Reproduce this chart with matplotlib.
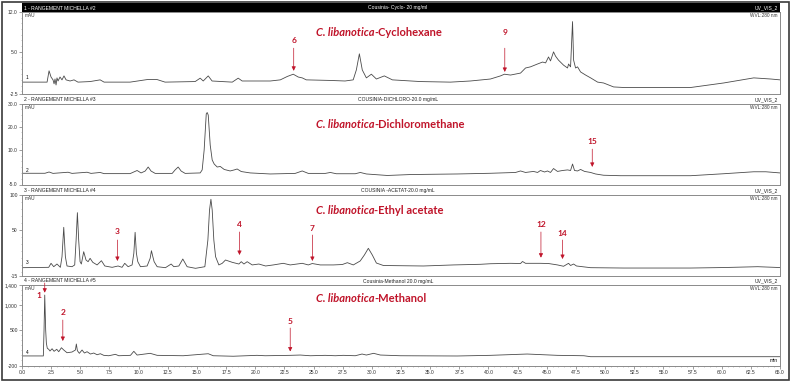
import matplotlib
matplotlib.use('Agg')
import matplotlib.pyplot as plt
from matplotlib.patches import Rectangle
from matplotlib.ticker import MultipleLocator

cyclo_t = [0, 2.15, 2.32, 2.49, 2.66, 2.75, 2.83, 2.92, 3.0, 3.09, 3.26, 3.43, 3.6, 3.78, 4.12, 4.46, 4.8, 5.84,
           6.7, 7.04, 9.27, 10.73, 11.59, 12.27, 14.85, 15.28, 15.54, 15.97, 16.3, 18.03, 18.54, 18.88, 21.29,
           22.15, 22.75, 23.26, 23.69, 24.03, 24.38, 26.4, 27.7, 28.4, 28.67, 28.93, 29.18, 29.53, 29.96, 30.39,
           31.07, 31.76, 34.16, 36.74, 38.45, 40.17, 41.03, 41.37, 41.89, 42.75, 43.18, 43.6, 44.2, 44.64, 44.9,
           45.15, 45.32, 45.58, 45.75, 46.0, 46.44, 46.78, 46.87, 47.04, 47.21, 47.3, 47.47, 47.64, 47.9, 48.33,
           48.76, 49.36, 49.87, 50.73, 51.59, 57.34, 60.17, 62.75, 64.21, 65.0]
cyclo_v = [-0.4, -0.4, 1.6, 0.5, 0.0, -0.7, 0.15, -0.9, 0.35, -0.2, 0.5, 0.0, 0.7, 0.0, -0.2, 0.0, -0.4, -0.3,
           0.0, -0.4, -0.4, 0.05, 0.05, -0.4, -0.3, 0.3, -0.2, 0.7, -0.2, -0.4, 0.3, -0.2, -0.2,
           0.0, 0.6, 1.0, 0.5, 0.35, 0.0, -0.1, -0.2, 0.0, 1.75, 4.6, 1.75, 0.35, 1.0, 0.15,
           0.7, 0.0, -0.3, -0.4, -0.2, 0.15, 0.7, 1.0, 0.85, 1.2, 2.1, 2.3, 2.8, 3.15, 3.0,
           4.05, 3.35, 4.95, 4.2, 3.5, 2.6, 2.1, 2.8, 2.3, 10.3, 3.5, 2.1, 2.3, 1.4, 0.85,
           0.35, -0.4, -0.55, -1.25, -1.35, -1.35, -0.55, 0.35, 0.15, 0.0]

dcm_t = [0, 1.97, 2.32, 2.66, 3.95, 4.29, 5.58, 5.92, 6.7, 7.04, 9.27, 9.87, 10.21, 10.56, 10.82, 11.07, 11.42,
         12.88, 13.13, 13.39, 13.65, 13.99, 15.28, 15.45, 15.62, 15.8, 15.88, 15.97, 16.14, 16.31, 16.48, 16.74,
         17.0, 17.34, 17.85, 18.2, 18.45, 18.8, 19.57, 21.29, 23.43, 24.03, 24.55, 26.01, 26.44, 26.95, 28.58,
         29.01, 29.53, 31.33, 33.3, 37.34, 40.17, 42.32, 42.75, 43.18, 43.86, 44.21, 44.46, 44.81, 45.06, 45.32,
         45.58, 45.92, 46.35, 46.78, 47.04, 47.21, 47.38, 47.64, 47.9, 48.24, 48.76, 49.18, 49.87, 51.33, 57.34,
         60.17, 62.75, 63.78, 65.0]
dcm_v = [-0.15, -0.15, 0.4, -0.2, 0.3, -0.2, 0.3, -0.2, 0.2, -0.3, -0.3, 1.05, 0.0, 0.8, 2.55, 0.8, -0.2,
         -0.2, 1.3, 2.55, 0.8, -0.2, 0.0, 1.3, 9.9, 25.5, 26.1, 25.0, 12.0, 5.6, 3.85, 2.55,
         2.8, 1.5, 0.85, 1.3, 1.7, 0.6, 0.0, -0.45, -0.2, 0.85, -0.2, -0.2, 0.2, -0.35, -0.35,
         0.2, -0.45, -1.1, -0.7, -0.45, -0.15, 0.2, 0.85, 0.2, 0.65, 0.2, 1.05, 0.4, 0.85, 0.2,
         1.9, 0.65, 1.05, 1.3, 1.05, 3.85, 1.05, 0.85, 1.5, 0.65, 0.2, -0.45, -1.0, -1.2, -1.2,
         -0.35, 0.5, 0.5, 0.0]

ea_t = [0, 2.29, 2.49, 2.72, 3.0, 3.29, 3.43, 3.58, 3.72, 3.86, 4.29, 4.52, 4.64, 4.75, 4.86, 4.98, 5.09, 5.29,
        5.49, 5.67, 5.84, 6.07, 6.44, 6.81, 7.1, 7.73, 8.24, 8.58, 8.81, 9.1, 9.44, 9.59, 9.7, 9.81, 9.93, 10.16,
        10.73, 10.99, 11.1, 11.22, 11.33, 11.59, 12.3, 12.79, 13.02, 13.45, 13.79, 14.16, 14.88, 15.68, 15.94,
        16.08, 16.2, 16.31, 16.45, 16.6, 16.88, 17.17, 17.45, 18.03, 18.6, 18.8, 19.03, 19.31, 19.74, 20.31,
        20.89, 21.55, 22.4, 23.0, 24.03, 24.55, 24.89, 25.58, 26.7, 27.47, 27.9, 28.41, 29.0, 29.36, 29.7, 30.04,
        30.39, 30.99, 32.45, 34.42, 37.0, 39.31, 40.17, 41.89, 42.75, 42.92, 43.18, 44.46, 45.15, 45.92, 46.44,
        46.87, 47.04, 47.3, 47.55, 48.76, 51.59, 57.34, 60.17, 63.09, 65.0]
ea_v = [-3.9, -3.4, 2.3, -2.5, 1.3, -3.4, 11.7, 53.4, 11.7, -1.5, -2.5, 0, 35.4, 74.2, 35.4, 4.6, 1.3, 18.8,
        7.0, 4.6, 9.4, 3.7, 0, 6.0, -1.5, -3.4, -1.5, -3.4, 2.3, -2.5, 0, 16.5, 46.3, 16.5, 4.6, -2.5,
        -1.5, 9.4, 20.2, 11.7, 4.6, -2.5, -3.9, 1.3, -2.5, -1.5, 8.4, -2.5, -4.8, -2.5, 35.4,
        78, 93.2, 78, 35.4, 11.7, 0, 2.3, 7.0, 3.7, 1.3, 4.6, 1.3, 4.6, 0, 1.3,
        -1.5, 0, 2.3, 0, 2.3, 0, 2.0, 0, 0, 0.6, 3.2, 0, 5.6, 14.1, 23.6, 14.1,
        2.7, -0.8, -1.1, -1.5, 0, 0.9, 1.7, 2.3, 2.0, 4.9, 2.3, 2.3, 2.0, 0, -1.9,
        2.3, -0.8, 1.3, -1.5, -3.9, -4.4, -4.4, -3.7, -2.5, -3.7]

meoh_t = [0, 1.83, 1.89, 1.95, 2.03, 2.09, 2.17, 2.29, 2.4, 2.58, 2.75, 2.98, 3.15, 3.38, 3.58, 3.86, 4.29, 4.58,
          4.66, 4.75, 4.92, 5.15, 5.35, 5.58, 5.87, 6.15, 6.44, 6.72, 7.01, 7.44, 8.01, 8.3, 9.3, 9.59, 9.87,
          10.99, 11.59, 13.82, 15.97, 16.4, 18.11, 20.15, 20.86, 23.0, 23.86, 24.72, 26.0, 26.87, 27.55, 28.58,
          29.16, 29.53, 30.15, 30.73, 32.45, 37.31, 40.17, 43.32, 45.9, 48.18, 48.76, 65.0]
meoh_v = [-10, -10, 505, 1200, 505, 241, 142, 122, 88, 133, 82, 122, 74, 153, 108, 54, 68, 108,
          227, 94, 42, 108, 48, 74, 28, 48, 14, 34, 2, -6, 22, -6, 2, 82, 8,
          42, 2, -6, 34, -6, -16, 2, -6, 2, 8, -6, 2, -6, 2, -6,
          28, 8, 42, 8, -6, -11, 2, 28, 2, -6, -25, -25]

# textes des panneaux
run_names = ['1 - RANGEMENT MICHELLA #2', '2 - RANGEMENT MICHELLA #3',
             '3 - RANGEMENT MICHELLA #4', '4 - RANGEMENT MICHELLA #5']
sample_names = ['Cousinia- Cyclo- 20 mg/ml', 'COUSINIA-DICHLORO-20.0 mg/mL',
                'COUSINIA -ACETAT-20.0 mg/mL', 'Cousinia-Methanol 20.0 mg/mL']
solvents = ['Cyclohexane', 'Dichloromethane', 'Ethyl acetate', 'Methanol']
y_limits = [(-2.5, 12.0), (-5.0, 30.0), (-15, 100), (-200, 1400)]
y_ticks = [[-2.5, 5.0, 12.0], [-5.0, 10.0, 20.0, 30.0], [-15, 50, 100], [-200, 500, 1000, 1400]]
y_ticklabels = [['-2.5', '5.0', '12.0'], ['-5.0', '10.0', '20.0', '30.0'], ['-15', '50', '100'],
                ['-200', '500', '1,000', '1,400']]
y_minor = [1.0, 2.5, 10, 100]
x_ticks = [i * 2.5 for i in range(27)]

# fleches rouges : (panneau, numero, temps, pointe, depart, etiquette)
arrows_panel = [0, 0, 1, 2, 2, 2, 2, 2, 3, 3]
arrows_num = ['6', '9', '15', '3', '4', '7', '12', '14', '2', '5']
arrows_t = [23.3, 41.4, 48.9, 8.18, 18.65, 24.9, 44.5, 46.35, 3.5, 23.0]
arrows_tip = [1.6, 1.4, 2.6, 5.6, 14.1, 5.6, 10.3, 8.4, 287, 78]
arrows_start = [5.6, 5.6, 10.3, 35.4, 46.8, 42.5, 46.8, 35.4, 704, 545]
arrows_label = [6.9, 8.3, 13.4, 47.2, 58.1, 52.4, 58.1, 45.3, 863, 670]

traces_t = [cyclo_t, dcm_t, ea_t, meoh_t]
traces_v = [cyclo_v, dcm_v, ea_v, meoh_v]

red = '#C0142A'
W, H = 791, 382
fig = plt.figure(figsize=(W / 100, H / 100), dpi=100)

# position des cadres en pixels (haut, bas)
boxes = [(12, 94), (103.5, 184.5), (194.5, 275.5), (285, 365.5)]
x0, x1 = 22, 780
axes = []
for i, (top, bot) in enumerate(boxes):
    ax = fig.add_axes([x0 / W, 1 - bot / H, (x1 - x0) / W, (bot - top) / H])
    axes.append(ax)
    ax.plot(traces_t[i], traces_v[i], color='#4a4a4a', lw=0.6)
    ax.set_xlim(0, 65)
    ax.set_ylim(*y_limits[i])
    for s in ax.spines.values():
        s.set_color('#8a8a8a')
        s.set_linewidth(0.7)
    ax.set_yticks(y_ticks[i])
    ax.set_yticklabels(y_ticklabels[i], fontsize=3.6, color='#333333', family='Liberation Sans')
    ax.yaxis.set_minor_locator(MultipleLocator(y_minor[i]))
    ax.tick_params(axis='y', which='major', length=2, width=0.5, color='#777777', pad=1)
    ax.tick_params(axis='y', which='minor', length=1, width=0.4, color='#999999')
    if i < 3:
        ax.tick_params(axis='x', which='both', bottom=False, labelbottom=False)
    else:
        ax.set_xticks(x_ticks)
        ax.set_xticklabels(['%.1f' % v for v in x_ticks], fontsize=3.6, color='#333333',
                           family='Liberation Sans')
        ax.xaxis.set_minor_locator(MultipleLocator(0.5))
        ax.tick_params(axis='x', which='major', length=2, width=0.5, color='#777777', pad=1.5)
        ax.tick_params(axis='x', which='minor', length=1, width=0.4, color='#999999')
        ax.text(64.8, -150, 'min', fontsize=3.6, ha='right', va='bottom', family='Liberation Sans')

    # petits textes du logiciel
    ax.text(0.004, 0.985, 'mAU', transform=ax.transAxes, fontsize=3.4, va='top', ha='left',
            family='Liberation Sans', color='#333333')
    ax.text(0.997, 0.985, 'WVL:280 nm', transform=ax.transAxes, fontsize=3.4, va='top', ha='right',
            family='Liberation Sans', color='#333333')
    ax.text(0.3, 0, str(i + 1), fontsize=3.4, va='bottom', ha='left', family='Liberation Sans')

    # en-tete
    hy = 1 - (top - 1.5) / H
    hcol = 'white' if i == 0 else '#222222'
    if i == 0:
        fig.patches.append(Rectangle((x0 / W, 1 - 12 / H), (x1 - x0) / W, 9 / H, transform=fig.transFigure,
                                     facecolor='black', edgecolor='none'))
    fig.text((x0 + 2) / W, hy, run_names[i], fontsize=3.6, color=hcol, va='bottom', ha='left',
             family='Liberation Sans')
    fig.text(398 / W, hy, sample_names[i], fontsize=3.6, color=hcol, va='bottom', ha='center',
             family='Liberation Sans')
    fig.text((x1 - 2) / W, hy, 'UV_VIS_2', fontsize=3.6, color=hcol, va='bottom', ha='right',
             family='Liberation Sans')

    # titre rouge
    ty = [32, 124, 210, 298][i]
    t1 = fig.text(316 / W, 1 - ty / H, 'C. libanotica', fontsize=8, color=red, fontweight='bold',
                  style='italic', family='Lato', va='center', ha='left')
    ax.annotate('-' + solvents[i], xy=(1, 0), xycoords=t1, va='bottom', ha='left', fontsize=8,
                color=red, fontweight='bold', family='Lato')

# fleches
for p, n, t, tip, st, lab in zip(arrows_panel, arrows_num, arrows_t, arrows_tip, arrows_start, arrows_label):
    ax = axes[p]
    ax.annotate('', xy=(t, tip), xytext=(t, st),
                arrowprops=dict(arrowstyle='-|>', color=red, lw=0.5, mutation_scale=6, shrinkA=0, shrinkB=0))
    ax.text(t, lab, n, color=red, fontsize=6, fontweight='bold', ha='center', va='center', family='Lato')

# pic 1 : fleche courte sur le sommet du pic
ax = axes[3]
ax.annotate('', xy=(1.95, 1247), xytext=(1.95, 1440), annotation_clip=False,
            arrowprops=dict(arrowstyle='-|>', color=red, lw=0.5, mutation_scale=6, shrinkA=0, shrinkB=0))
ax.text(1.45, 1200, '1', color=red, fontsize=6, fontweight='bold', ha='center', va='center', family='Lato')

# cadre exterieur
fig.patches.append(Rectangle((2 / W, 2 / H), (W - 4) / W, (H - 4) / H, transform=fig.transFigure,
                             fill=False, edgecolor='#3a3a3a', linewidth=1.2))

fig.savefig('out.png', dpi=100)
